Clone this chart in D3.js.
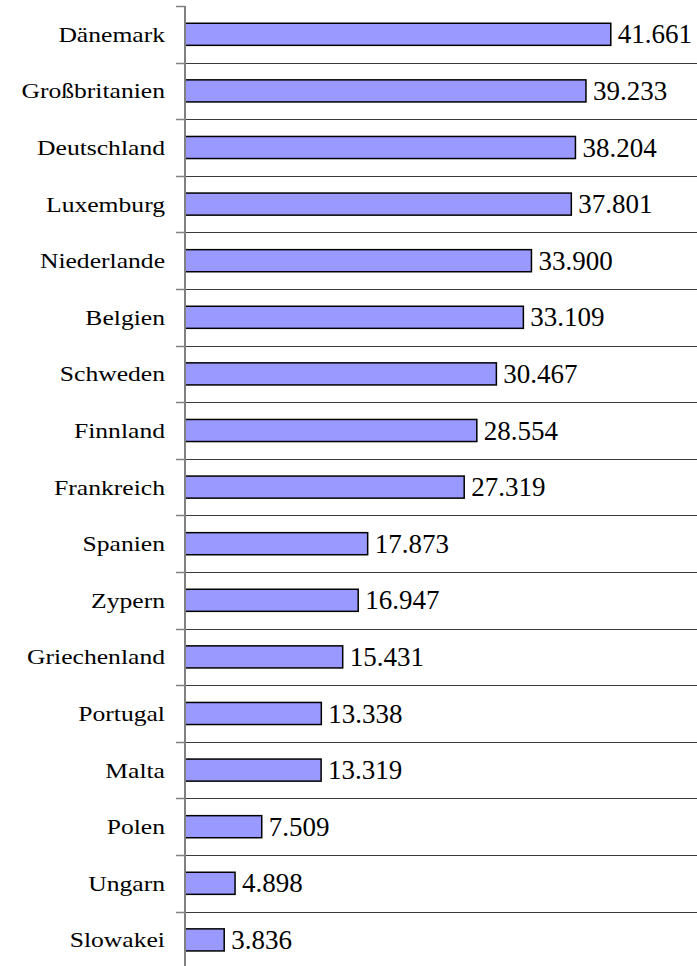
<!DOCTYPE html>
<html>
<head>
<meta charset="utf-8">
<script src="https://cdn.jsdelivr.net/npm/d3@7"></script>
<style>
    body { margin: 0; background: #fff; }
    text { font-family: "Liberation Serif", "Times New Roman", serif; fill: #000; }
</style>
</head>
<body>
<div class="chart"></div>
<script>
let countries = ["Dänemark", "Großbritanien", "Deutschland", "Luxemburg", "Niederlande", "Belgien",
    "Schweden", "Finnland", "Frankreich", "Spanien", "Zypern", "Griechenland", "Portugal",
    "Malta", "Polen", "Ungarn", "Slowakei"];
let values = [41.661, 39.233, 38.204, 37.801, 33.900, 33.109, 30.467, 28.554, 27.319,
    17.873, 16.947, 15.431, 13.338, 13.319, 7.509, 4.898, 3.836];
let xDomain = [0, 50];

let svgWidth = 697;
let svgHeight = 966;
let margin = { top: 6, left: 185, right: 1 };

let svg = d3.select(".chart")
    .append("svg")
    .attr("width", svgWidth)
    .attr("height", svgHeight);

let xScale = d3.scaleLinear()
    .domain(xDomain)
    .range([margin.left, svgWidth - margin.right]);

let yScale = d3.scaleBand()
    .domain(countries)
    .range([margin.top, margin.top + 56.6 * countries.length])
    .paddingInner(0.61)
    .paddingOuter(0.305);

let step = yScale.step();
let bounds = d3.range(countries.length + 1).map(i => margin.top + i * step);

// gridlines between categories
svg.append("g")
    .selectAll("line")
    .data(bounds.slice(1))
    .enter()
    .append("line")
    .attr("x1", margin.left)
    .attr("x2", svgWidth)
    .attr("y1", d => Math.round(d) + 0.5)
    .attr("y2", d => Math.round(d) + 0.5)
    .attr("stroke", "#3a3a3a")
    .attr("stroke-width", 1);

// ticks on the left of the axis
svg.append("g")
    .selectAll("line")
    .data(bounds)
    .enter()
    .append("line")
    .attr("x1", margin.left - 9)
    .attr("x2", margin.left)
    .attr("y1", d => Math.round(d) + 0.5)
    .attr("y2", d => Math.round(d) + 0.5)
    .attr("stroke", "#808080")
    .attr("stroke-width", 1.5);

// bars
svg.append("g")
    .selectAll("rect")
    .data(countries)
    .enter()
    .append("rect")
    .attr("x", xScale(0))
    .attr("y", d => yScale(d))
    .attr("width", (d, i) => xScale(values[i]) - xScale(0))
    .attr("height", yScale.bandwidth())
    .attr("fill", "#9999ff")
    .attr("stroke", "#000")
    .attr("stroke-width", 1.5);

// axis line
svg.append("line")
    .attr("x1", margin.left)
    .attr("x2", margin.left)
    .attr("y1", margin.top)
    .attr("y2", svgHeight)
    .attr("stroke", "#808080")
    .attr("stroke-width", 2);

// value labels
let fmt = d3.format(".3f");
svg.append("g")
    .selectAll("text")
    .data(countries)
    .enter()
    .append("text")
    .attr("x", (d, i) => xScale(values[i]) + 7)
    .attr("y", d => yScale(d) + yScale.bandwidth() / 2)
    .attr("dy", "0.34em")
    .style("font-size", "27px")
    .text((d, i) => fmt(values[i]));

// category labels (stretched a bit horizontally like the original)
svg.append("g")
    .selectAll("text")
    .data(countries)
    .enter()
    .append("text")
    .attr("transform", d => `translate(165, ${yScale(d) + yScale.bandwidth() / 2}) scale(1.22, 1)`)
    .attr("text-anchor", "end")
    .attr("dy", "0.36em")
    .style("font-size", "21px")
    .text(d => d);
</script>
</body>
</html>
